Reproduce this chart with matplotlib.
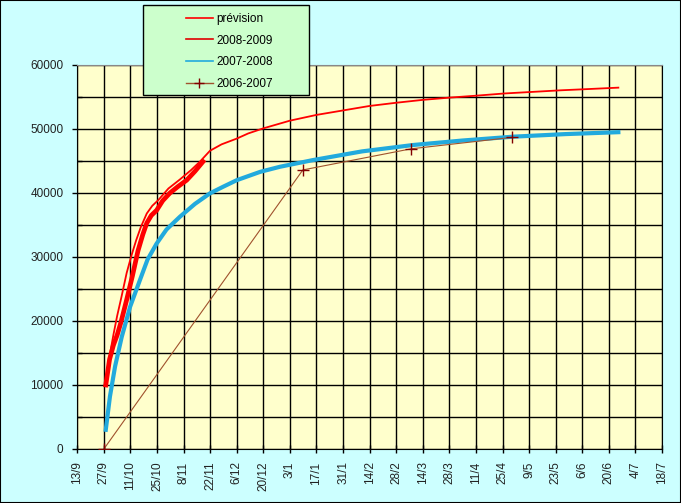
import matplotlib
matplotlib.use("Agg")
from matplotlib import pyplot as plt
from matplotlib.patches import Rectangle
from matplotlib.lines import Line2D
from matplotlib.ticker import MultipleLocator

plt.rcParams['font.family'] = ['Liberation Sans', 'DejaVu Sans']

# x values are days counted from 13/9
tick_labels = ['13/9', '27/9', '11/10', '25/10', '8/11', '22/11', '6/12', '20/12',
               '3/1', '17/1', '31/1', '14/2', '28/2', '14/3', '28/3', '11/4',
               '25/4', '9/5', '23/5', '6/6', '20/6', '4/7', '18/7']

# prévision (thin red)
prev_days = [15, 17, 19, 21, 23.3, 26, 28.5, 31, 33.5, 36.6, 39.5, 42.7, 48, 54, 60,
             64.6, 69.9, 76, 84, 90, 98, 112, 126, 140, 154, 168, 182, 196, 210,
             225, 240, 255, 270, 285]
prev_vals = [10000, 14500, 17800, 20800, 23800, 27500, 30200, 32600, 34700, 36800,
             38000, 38900, 40700, 42100, 43600, 44900, 46600, 47600, 48500, 49300,
             50100, 51300, 52200, 52900, 53600, 54100, 54550, 54900, 55200, 55550,
             55800, 56050, 56250, 56460]

# 2008-2009 (thick red)
s0809_days = [15, 17, 19, 21, 23, 26, 29, 32, 34.5, 36.6, 39, 41.8, 45, 48.8, 53,
              57.6, 62, 66.2]
s0809_vals = [10000, 14000, 16200, 17800, 19800, 23300, 27000, 31000, 33500, 35300,
              36500, 37300, 38800, 40000, 41000, 42000, 43400, 44900]

# 2007-2008 (blue)
s0708_days = [15, 17.2, 19.9, 23.4, 27.8, 33, 37, 41.8, 47, 54.1, 62, 69.9, 77, 84,
              96.3, 106.8, 124.3, 150, 177, 203, 229.7, 257, 285]
s0708_vals = [3000, 8200, 12900, 17500, 22200, 26400, 29600, 32100, 34300, 36300,
              38300, 39950, 41000, 42000, 43300, 44100, 45150, 46500, 47500, 48200,
              48800, 49200, 49500]

# 2006-2007 (brown with markers)
s0607_days = [14, 118.8, 175.8, 229.2]
s0607_vals = [0, 43600, 46900, 48700]

fig = plt.figure(figsize=(6.81, 5.03), dpi=100, facecolor='#CCFFFF')
ax = fig.add_axes([0.1135, 0.1074, 0.8586, 0.7634])
ax.set_facecolor('#FFFFCC')

ax.plot(prev_days, prev_vals, color='#FF0000', lw=1.3, zorder=4)
ax.plot(s0809_days, s0809_vals, color='#FF0000', lw=3.4, zorder=3)
ax.plot(s0708_days, s0708_vals, color='#22AADD', lw=3.0, zorder=3)
ax.plot(s0607_days, s0607_vals, color='#A0522D', lw=0.8, marker='+',
        ms=8, mew=1.0, mec='#800000', zorder=4)

ax.set_xlim(0, 14 * (len(tick_labels) - 1))
ax.set_ylim(0, 60000)
ax.set_xticks([14 * i for i in range(len(tick_labels))])
ax.set_xticklabels(tick_labels, rotation=90, va='top', ha='center')
ax.yaxis.set_major_locator(MultipleLocator(10000))
ax.yaxis.set_minor_locator(MultipleLocator(5000))

ax.grid(True, which='both', color='black', lw=1.0)
ax.set_axisbelow(True)
ax.tick_params(axis='x', direction='inout', length=6, width=1, pad=6,
               labelsize=8.5, labelcolor='#222222')
ax.tick_params(axis='y', which='major', direction='out', length=3.5, width=1, pad=6.5,
               labelsize=8.5, labelcolor='#222222')
ax.tick_params(axis='y', which='minor', direction='in', length=3.5, width=1)
for side in ['left', 'bottom', 'right']:
    ax.spines[side].set_color('black')
ax.spines['top'].set_color('#888888')

# legend box
W, H = 681.0, 503.0
fig.patches.append(Rectangle((143 / W, 1 - 95 / H), 166 / W, 90 / H,
                             transform=fig.transFigure, facecolor='#CCFFCC',
                             edgecolor='black', lw=1.0, zorder=5))
handles = [Line2D([], [], color='#FF0000', lw=1.2),
           Line2D([], [], color='#E00000', lw=1.2),
           Line2D([], [], color='#22AADD', lw=1.2),
           Line2D([], [], color='#A0522D', lw=1.0, marker='+', ms=7,
                  mew=1.0, mec='#800000')]
fig.legend(handles, ['prévision', '2008-2009', '2007-2008', '2006-2007'],
           loc='upper left', bbox_to_anchor=(180 / W, 1 - 7 / H),
           frameon=False, fontsize=8.5, borderpad=0, handlelength=2.3,
           handletextpad=0.3, labelspacing=0.82).set_zorder(6)

# outer border
fig.patches.append(Rectangle((0, 0), 1, 1, transform=fig.transFigure,
                             fill=False, edgecolor='black', lw=1.5, zorder=7))

fig.savefig('out.png', dpi=100, facecolor=fig.get_facecolor())
